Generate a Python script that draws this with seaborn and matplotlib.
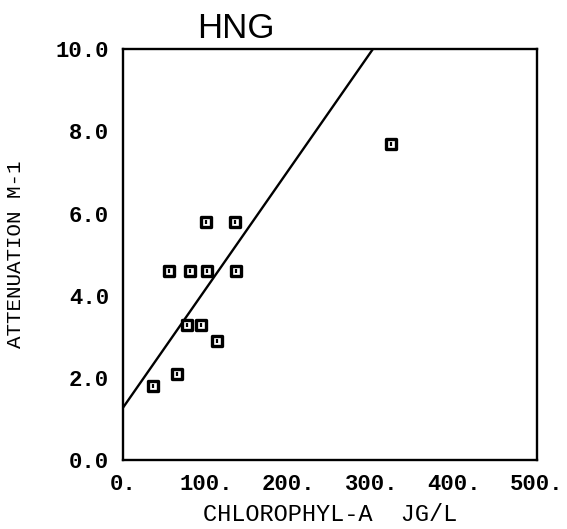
import matplotlib
matplotlib.use("Agg")
import matplotlib.pyplot as plt
import seaborn as sns
import numpy as np
import pandas as pd

# Observations: chlorophyll-a (ug/L) vs light attenuation (1/m)
chlorophyll = [36, 65, 77, 94, 114, 56, 81, 102, 137, 100, 135, 324]
attenuation = [1.8, 2.1, 3.3, 3.3, 2.9, 4.6, 4.6, 4.6, 4.6, 5.8, 5.8, 7.7]

# Fitted relation drawn through the data
fit_intercept = 1.28
fit_slope = 0.0289

x_ticks = [0, 100, 200, 300, 400, 500]
x_tick_labels = ["0.", "100.", "200.", "300.", "400.", "500."]
y_ticks = [0, 2, 4, 6, 8, 10]
y_tick_labels = ["0.0", "2.0", "4.0", "6.0", "8.0", "10.0"]

sns.set_theme(style="white")
plt.rcParams["font.family"] = ["Liberation Mono", "DejaVu Sans Mono"]

df = pd.DataFrame({"chl": chlorophyll, "att": attenuation})
line_x = np.array([x_ticks[0], x_ticks[-1]], dtype=float)
line_df = pd.DataFrame({"chl": line_x, "att": fit_intercept + fit_slope * line_x})

fig = plt.figure(figsize=(5.67, 5.29), dpi=100)
ax = fig.add_axes([0.217, 0.130, 0.730, 0.777])

sns.lineplot(data=line_df, x="chl", y="att", ax=ax, color="black", linewidth=1.7)
# plotter-style square symbol: open square with a small inner stroke
sns.scatterplot(data=df, x="chl", y="att", ax=ax, marker="s", s=62,
                facecolor="white", edgecolor="black", linewidth=2.4, zorder=3)
sns.scatterplot(data=df, x="chl", y="att", ax=ax, marker="|", s=9,
                color="black", linewidth=1.6, zorder=4)

ax.set_xlim(0, 500)
ax.set_ylim(0, 10)
ax.set_xticks(x_ticks)
ax.set_xticklabels(x_tick_labels, fontweight="bold")
ax.set_yticks(y_ticks)
ax.set_yticklabels(y_tick_labels, fontweight="bold")
ax.tick_params(axis="both", direction="inout", length=8, width=1.4,
               color="black", labelsize=16, labelcolor="black")
ax.tick_params(axis="x", pad=6)
ax.tick_params(axis="y", pad=6)

for side in ["left", "right", "top", "bottom"]:
    ax.spines[side].set_visible(True)
    ax.spines[side].set_color("black")
    ax.spines[side].set_linewidth(1.7)

ax.set_xlabel("CHLOROPHYL-A  JG/L", fontsize=17, color="black", labelpad=6)
ax.set_ylabel("ATTENUATION M-1", fontsize=15, color="black", labelpad=22)

fig.text(0.416, 0.947, "HNG", ha="center", va="center", fontsize=25,
         family=["Liberation Sans", "DejaVu Sans"], fontweight="normal",
         color="black")

fig.savefig("out.png", dpi=100, facecolor="white")
